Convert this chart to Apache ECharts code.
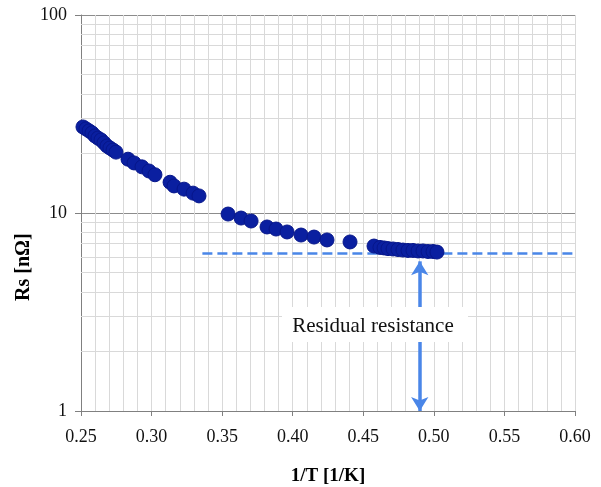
<!DOCTYPE html>
<html>
<head>
<meta charset="utf-8">
<script src="https://cdn.jsdelivr.net/npm/echarts@6/dist/echarts.min.js"></script>
<style>html,body{margin:0;padding:0;background:#fff}#c{width:601px;height:487px}</style>
</head>
<body>
<div id="c"></div>
<script>
// 1/T values [1/K]
var invT = [0.2514,0.2535,0.2557,0.2578,0.2599,0.2620,0.2642,0.2663,0.2684,0.2705,0.2727,0.2748,
  0.2833,0.2876,0.2932,0.2982,0.3024,0.3131,0.3159,0.3230,0.3294,0.3336,
  0.3542,0.3634,0.3705,0.3818,0.3882,0.3960,0.4059,0.4151,0.4243,0.4406,0.4576,
  0.4618,0.4647,0.4675,0.4711,0.4746,0.4781,0.4817,0.4852,0.4888,0.4923,0.4959,0.4994,0.5022];
// Rs values [nOhm]
var rs = [27.2,26.6,26.0,25.4,24.5,23.9,23.4,22.6,21.8,21.3,20.8,20.3,
  18.7,17.9,17.1,16.3,15.6,14.3,13.7,13.2,12.6,12.2,
  9.88,9.43,9.11,8.50,8.30,8.02,7.74,7.56,7.31,7.14,6.81,
  6.70,6.66,6.61,6.58,6.54,6.50,6.47,6.47,6.43,6.43,6.39,6.39,6.35];
var residual = 6.28;          // residual resistance level
var residualStartX = 0.336;   // start of dashed line
var residualEndX = 0.60;
var arrowX = 0.49;            // arrow position
var arrowTop = 5.7;
var minorLogLines = [2,3,4,5,6,7,8,9,20,30,40,50,60,70,80,90];

var pts = invT.map(function(x,i){return [x, rs[i]];});
var serif = 'Liberation Serif';
var chart = echarts.init(document.getElementById('c'));
chart.setOption({
  animation:false,
  grid:{left:81,right:26,top:15,bottom:76,containLabel:false,outerBoundsMode:'none'},
  xAxis:{
    type:'value',min:0.25,max:0.60,interval:0.05,
    name:'1/T [1/K]',nameLocation:'middle',nameGap:56,
    nameTextStyle:{fontFamily:serif,fontSize:19,fontWeight:'bold',color:'#000'},
    axisLine:{lineStyle:{color:'#808080'}},
    axisTick:{show:true,length:5,lineStyle:{color:'#808080'}},
    axisLabel:{fontFamily:serif,fontSize:18,color:'#111',margin:17,formatter:function(v){return v.toFixed(2);}},
    splitLine:{show:true,lineStyle:{color:'#d9d9d9'}},
    minorTick:{show:false,splitNumber:5},
    minorSplitLine:{show:true,lineStyle:{color:'#d9d9d9'}}
  },
  yAxis:{
    type:'log',logBase:10,min:1,max:100,
    axisLine:{show:true,lineStyle:{color:'#808080'}},
    axisTick:{show:true,length:6,lineStyle:{color:'#808080'}},
    axisLabel:{fontFamily:serif,fontSize:18,color:'#111',margin:14},
    splitLine:{show:true,lineStyle:{color:'#8c8c8c'}}
  },
  graphic:[
    {type:'text',x:14,y:301,rotation:Math.PI/2,z:100,
      style:{text:'Rs [nΩ]',fontFamily:serif,fontSize:20,fontWeight:'bold',fill:'#000'}},
    {type:'rect',shape:{x:282,y:307,width:186,height:35},style:{fill:'#fff'},z:100},
    {type:'text',x:373,y:326,z:101,style:{text:'Residual resistance',fontFamily:serif,fontSize:21,fill:'#111',align:'center',verticalAlign:'middle'}}
  ],
  series:[
    {type:'line',data:[],z:1,silent:true,
      markLine:{silent:true,symbol:'none',label:{show:false},animation:false,
        lineStyle:{color:'#d9d9d9',type:'solid',width:1},
        data:minorLogLines.map(function(v){return {yAxis:v};})}},
    {type:'line',data:[],z:4,silent:true,
      markLine:{silent:true,symbol:'none',label:{show:false},animation:false,
        lineStyle:{color:'#4a86e8',type:[10,5],width:2.5},
        data:[[{coord:[residualStartX,residual]},{coord:[residualEndX,residual]}]]}},
    {type:'line',data:[],z:4,silent:true,
      markLine:{silent:true,symbol:['arrow','arrow'],symbolSize:[13,14],label:{show:false},animation:false,
        lineStyle:{color:'#4a86e8',type:'solid',width:3.5},
        data:[[{coord:[arrowX,arrowTop]},{coord:[arrowX,1]}]]}},
    {type:'scatter',data:pts,z:5,symbol:'circle',symbolSize:14,
      itemStyle:{color:'#0a1fa0',borderColor:'#06168a',borderWidth:1,opacity:1}}
  ]
});
</script>
</body>
</html>
